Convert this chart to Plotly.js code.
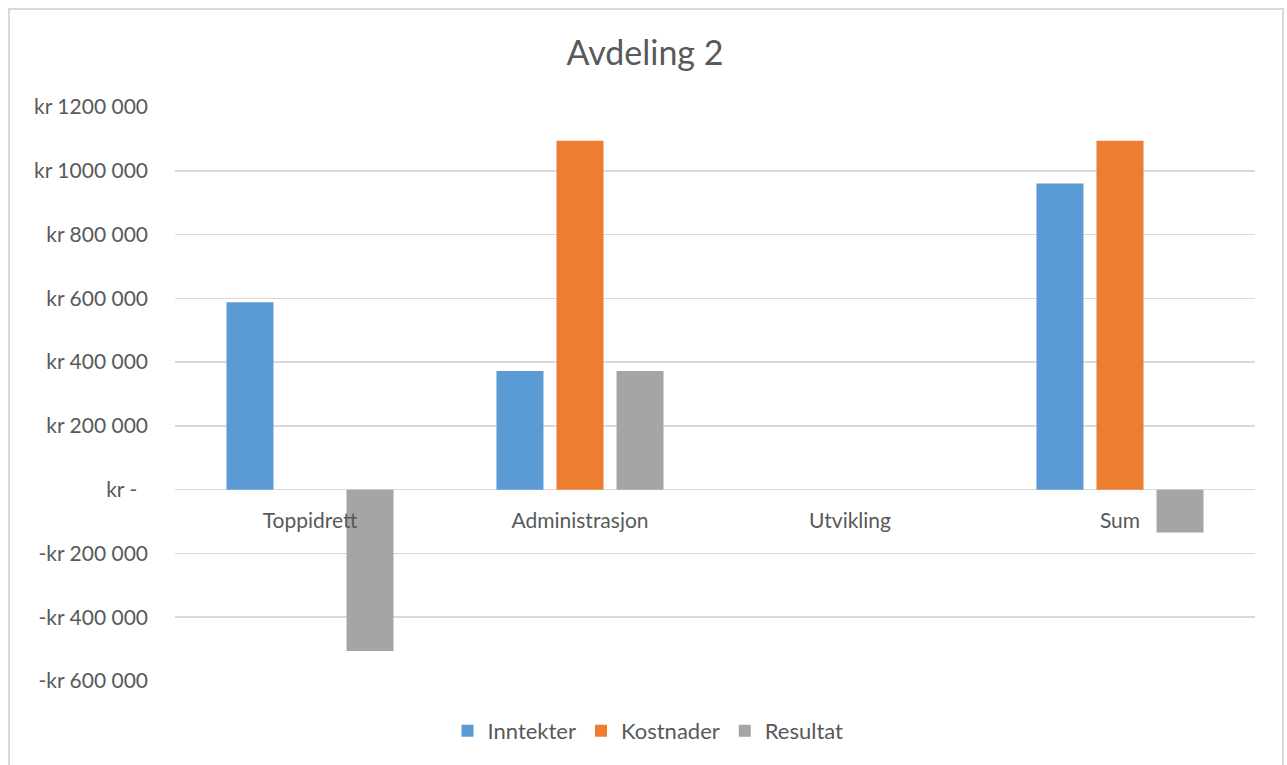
<!DOCTYPE html>
<html>
<head>
<meta charset="utf-8">
<script src="https://cdn.plot.ly/plotly-3.0.1.min.js"></script>
<style>
  html, body { margin: 0; padding: 0; background: #fff; overflow: hidden; }
  #chart { position: absolute; left: 0; top: 0; width: 1287px; height: 765px; }
  #frame { position: absolute; left: 8px; top: 8px; width: 1272px; height: 800px;
           border: 2px solid #d9d9d9; pointer-events: none; }
</style>
</head>
<body>
<div id="chart"></div>
<div id="frame"></div>
<script>
const categories = ["Toppidrett", "Administrasjon", "Utvikling", "Sum"];
const inntekter = [588000, 372000, 0, 960000];
const kostnader = [0, 1094000, 0, 1094000];
const resultat = [-506000, 372000, 0, -134000];
const seriesNames = ["Inntekter", "Kostnader", "Resultat"];
const tickValues = [1200000, 1000000, 800000, 600000, 400000, 200000, 0, -200000, -400000, -600000];
const tickLabels = ["kr 1200 000", "kr 1000 000", "kr 800 000", "kr 600 000", "kr 400 000", "kr 200 000",
                    "kr -\u00a0\u00a0", "-kr 200 000", "-kr 400 000", "-kr 600 000"];

const colors = ["#5B9BD5", "#ED7D31", "#A5A5A5"];
const FONT = "Lato, 'Open Sans', sans-serif";
const TXT = "#595959";

const seriesValues = [inntekter, kostnader, resultat];
const traces = seriesValues.map((vals, i) => ({
  type: "bar",
  name: seriesNames[i],
  x: categories,
  y: vals,
  marker: { color: colors[i], line: { width: 0 } },
  hoverinfo: "skip"
}));

const layout = {
  width: 1287,
  height: 765,
  margin: { l: 175, r: 32, t: 107, b: 84 },
  paper_bgcolor: "#ffffff",
  plot_bgcolor: "#ffffff",
  font: { family: FONT, color: TXT, size: 21 },
  title: {
    text: "Avdeling 2",
    font: { family: FONT, size: 34, color: TXT },
    x: 645 / 1287, xref: "container", xanchor: "center",
    y: 1 - 53 / 765, yref: "container", yanchor: "middle"
  },
  barmode: "group",
  bargap: 0.333,
  bargroupgap: 0.217,
  xaxis: {
    type: "category",
    anchor: "free",
    position: 1 / 3,
    showgrid: false,
    showline: false,
    zeroline: false,
    ticks: "",
    ticklabelstandoff: 16,
    tickfont: { family: FONT, size: 21, color: TXT },
    range: [-0.5, 3.5],
    fixedrange: true
  },
  yaxis: {
    range: [-600000, 1200000],
    tickvals: tickValues,
    ticktext: tickLabels,
    tickfont: { family: FONT, size: 21, color: TXT },
    showgrid: true,
    gridcolor: "#d9d9d9",
    gridwidth: 1.5,
    zeroline: true,
    zerolinecolor: "#d9d9d9",
    zerolinewidth: 1.5,
    showline: false,
    ticks: "",
    ticklabelstandoff: 26,
    fixedrange: true
  },
  showlegend: true,
  legend: {
    orientation: "h",
    xref: "container", x: 648 / 1287, xanchor: "center",
    yref: "container", y: 1 - 731 / 765, yanchor: "middle",
    font: { family: FONT, size: 22, color: TXT },
    bgcolor: "rgba(0,0,0,0)",
    traceorder: "normal"
  }
};

Plotly.newPlot("chart", traces, layout, { displayModeBar: false, staticPlot: true });
</script>
</body>
</html>
